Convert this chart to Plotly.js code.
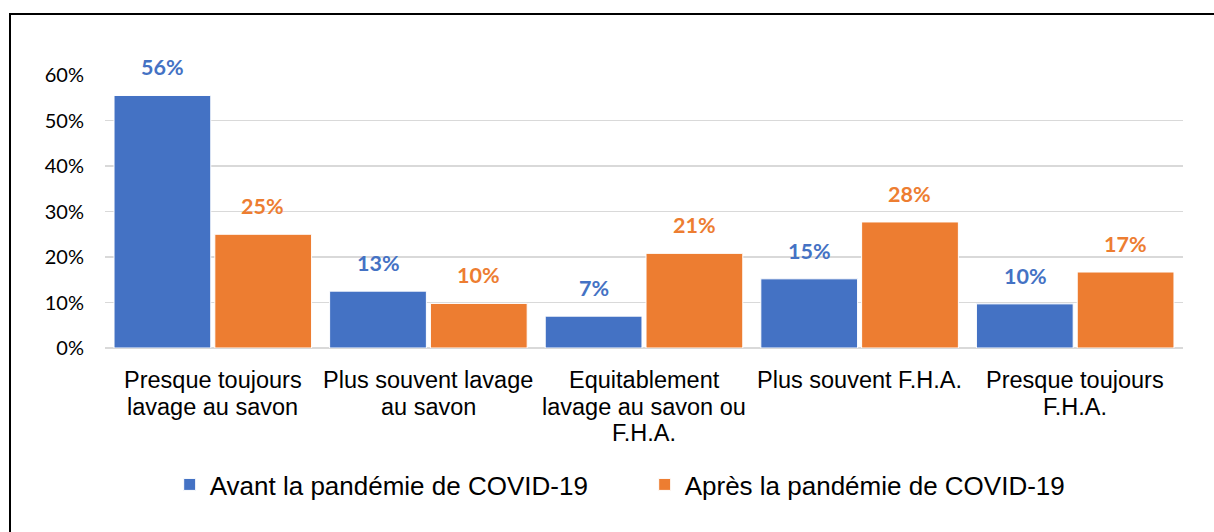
<!DOCTYPE html>
<html>
<head>
<meta charset="utf-8">
<script src="https://cdn.plot.ly/plotly-3.0.1.min.js"></script>
<style>
  html, body { margin: 0; padding: 0; background: #fff; overflow: hidden; }
  #frame { position: absolute; left: 9px; top: 13px; width: 1400px; height: 700px;
           border-left: 2px solid #000; border-top: 2px solid #000; }
  #chart { position: absolute; left: 0; top: 0; width: 1214px; height: 532px; }
</style>
</head>
<body>
<div id="frame"></div>
<div id="chart"></div>
<script>
const categories = [
  "Presque toujours<br>lavage au savon",
  "Plus souvent lavage<br>au savon",
  "Equitablement<br>lavage au savon ou<br>F.H.A.",
  "Plus souvent F.H.A.",
  "Presque toujours<br>F.H.A."
];
const seriesNames = ["Avant la pandémie de COVID-19", "Après la pandémie de COVID-19"];
const avantValues = [0.555, 0.125, 0.070, 0.152, 0.097];
const apresValues = [0.250, 0.098, 0.208, 0.277, 0.167];
const avantLabels = ["56%", "13%", "7%", "15%", "10%"];
const apresLabels = ["25%", "10%", "21%", "28%", "17%"];
const yTickVals = [0, 0.1, 0.2, 0.3, 0.4, 0.5, 0.6];
const yTickText = ["0%", "10%", "20%", "30%", "40%", "50%", "60%"];

const colors = ["#4472C4", "#ED7D31"];

const traces = [
  { type: "bar", name: seriesNames[0], x: categories, y: avantValues,
    marker: { color: colors[0], line: { color: "#ffffff", width: 1 } },
    hoverinfo: "skip" },
  { type: "bar", name: seriesNames[1], x: categories, y: apresValues,
    marker: { color: colors[1], line: { color: "#ffffff", width: 1 } },
    hoverinfo: "skip" }
];

const annotations = [];
// data labels
[[avantValues, avantLabels, -50, colors[0]], [apresValues, apresLabels, 50, colors[1]]].forEach(([vals, labs, dx, col]) => {
  vals.forEach((v, i) => {
    annotations.push({
      x: categories[i], y: v, xref: "x", yref: "y",
      text: labs[i], showarrow: false, xanchor: "center", yanchor: "bottom",
      xshift: dx, yshift: 13,
      font: { family: "Lato, 'Open Sans', sans-serif", size: 21.5, color: col, weight: "bold" }
    });
  });
});
// category labels, one annotation per line for tighter line spacing
categories.forEach((c) => {
  c.split("<br>").forEach((line, k) => {
    annotations.push({
      x: c, y: 0, xref: "x", yref: "paper",
      text: line, showarrow: false, xanchor: "center", yanchor: "top",
      yshift: -17 - k * 26.5,
      font: { family: "'Liberation Sans', Arial, sans-serif", size: 23.5, color: "#000" }
    });
  });
});

const layout = {
  width: 1214, height: 532,
  margin: { l: 105, r: 31, t: 75, b: 184 },
  paper_bgcolor: "rgba(0,0,0,0)",
  plot_bgcolor: "rgba(0,0,0,0)",
  barmode: "group",
  bargap: 0.065,
  bargroupgap: 0.04,
  showlegend: true,
  legend: {
    orientation: "h", x: 0.06, xanchor: "left", y: -0.5, yanchor: "middle",
    font: { family: "'Liberation Sans', Arial, sans-serif", size: 26, color: "#000" },
    entrywidth: 430, entrywidthmode: "pixels", traceorder: "normal"
  },
  xaxis: {
    type: "category",
    showticklabels: false,
    showgrid: false, showline: false, ticks: "", zeroline: false
  },
  yaxis: {
    range: [0, 0.6],
    tickvals: yTickVals, ticktext: yTickText,
    tickfont: { family: "Lato, 'Open Sans', sans-serif", size: 20, color: "#000" },
    showgrid: true, gridcolor: "#d9d9d9", gridwidth: 1.5,
    zeroline: true, zerolinecolor: "#d9d9d9", zerolinewidth: 1.5,
    showline: false, ticks: "", ticklabelstandoff: 20
  },
  annotations: annotations
};

Plotly.newPlot("chart", traces, layout, { displayModeBar: false, staticPlot: true });
</script>
</body>
</html>
